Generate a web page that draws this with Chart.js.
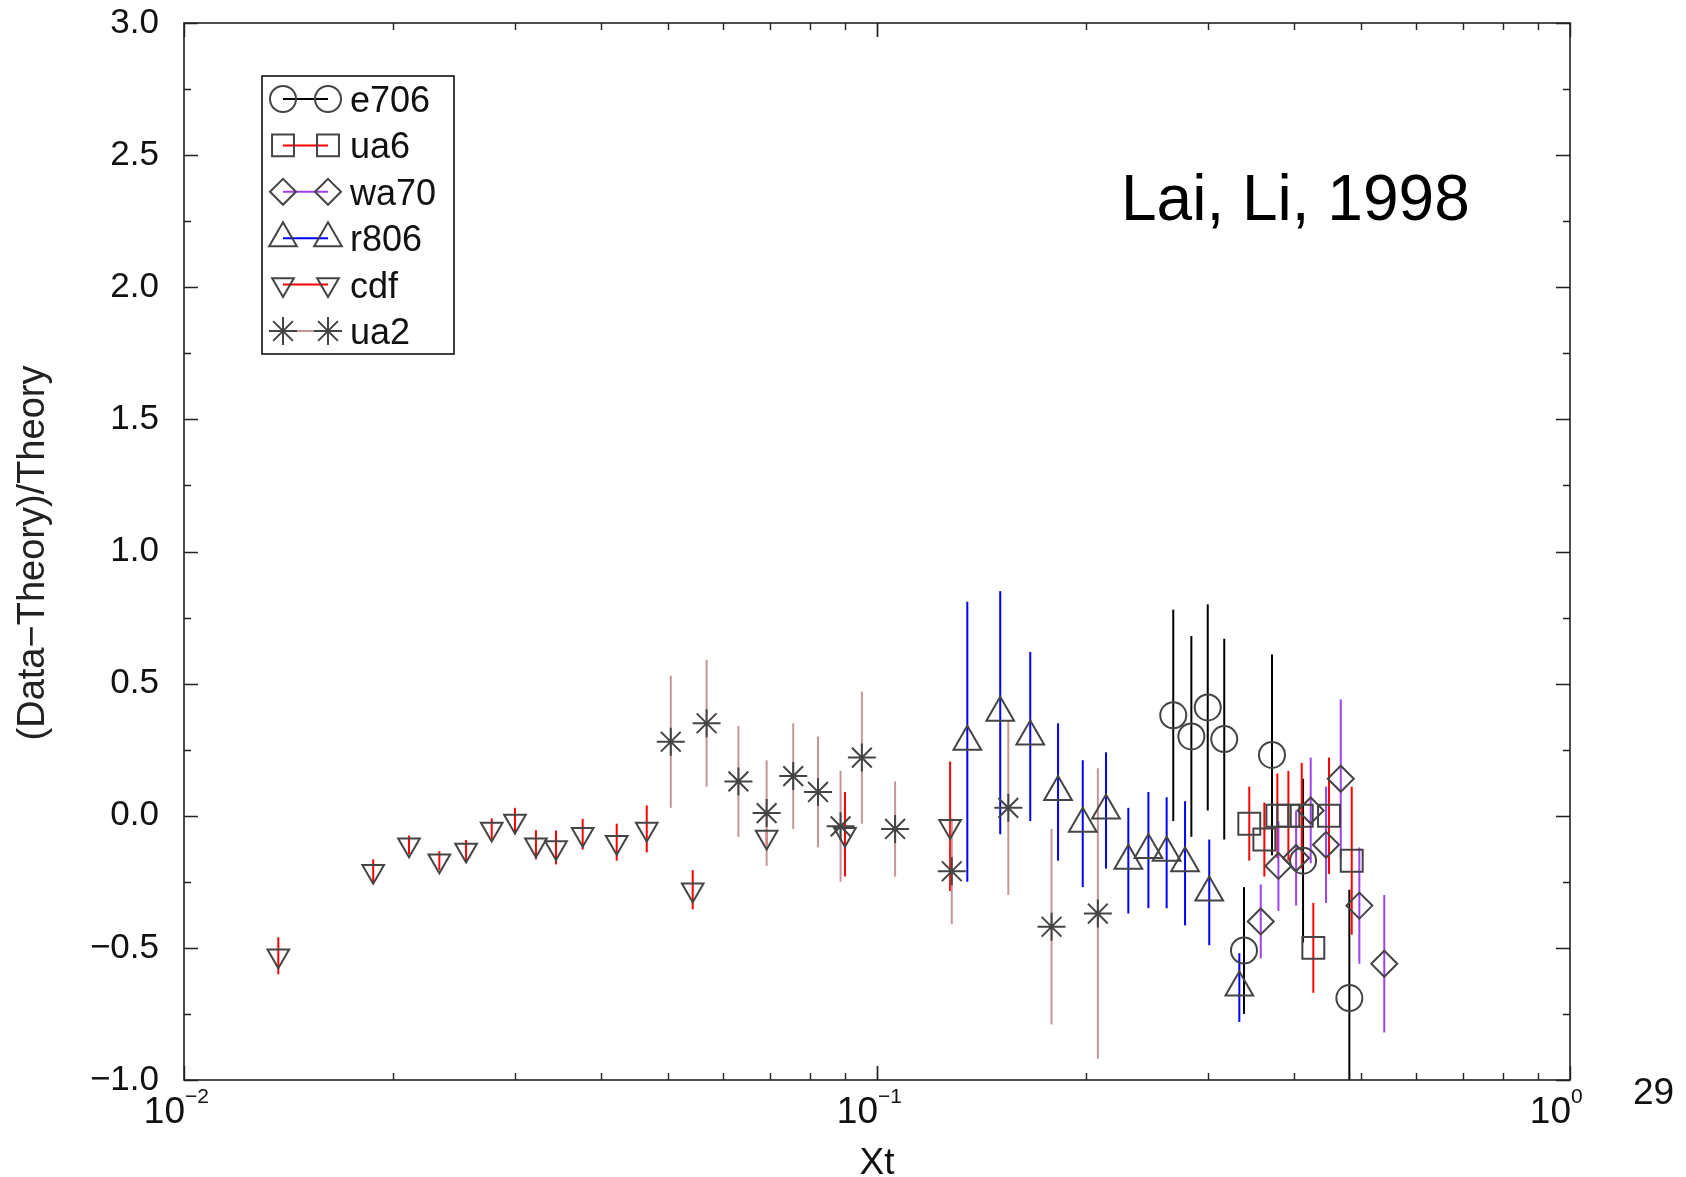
<!DOCTYPE html>
<html>
<head>
<meta charset="utf-8">
<script src="https://cdn.jsdelivr.net/npm/chart.js@4/dist/chart.umd.min.js"></script>
<style>
  html, body { margin: 0; padding: 0; background: #fff; }
  canvas { display: block; }
</style>
</head>
<body>
<canvas id="c" width="1686" height="1177"></canvas>
<script>
// values (x = Xt, y = (Data-Theory)/Theory, err = half error bar)
const e706X = [0.2676, 0.2842, 0.3001, 0.317, 0.3385, 0.3715, 0.4119, 0.4804];
const e706Y = [0.38, 0.30, 0.41, 0.29, -0.51, 0.23, -0.17, -0.69];
const e706Err = [0.40, 0.38, 0.39, 0.38, 0.24, 0.38, 0.31, 0.41];

const ua6X = [0.3445, 0.3622, 0.3782, 0.3923, 0.4101, 0.4262, 0.449, 0.4842];
const ua6Y = [-0.03, -0.09, 0.0, 0.0, 0.0, -0.50, 0.0, -0.17];
const ua6Err = [0.14, 0.14, 0.16, 0.17, 0.20, 0.17, 0.22, 0.28];

const wa70X = [0.3579, 0.3795, 0.4025, 0.4225, 0.4446, 0.4669, 0.4966, 0.5395];
const wa70Y = [-0.40, -0.19, -0.16, 0.02, -0.11, 0.14, -0.34, -0.56];
const wa70Err = [0.14, 0.17, 0.18, 0.20, 0.22, 0.30, 0.22, 0.26];

const r806X = [0.135, 0.1506, 0.1664, 0.1825, 0.1981, 0.214, 0.2305, 0.2464, 0.2618, 0.2783, 0.3016, 0.3333];
const r806Y = [0.28, 0.39, 0.30, 0.09, -0.03, 0.02, -0.17, -0.13, -0.14, -0.18, -0.29, -0.65];
const r806Err = [0.53, 0.46, 0.32, 0.26, 0.24, 0.22, 0.20, 0.22, 0.21, 0.235, 0.20, 0.13];

const cdfX = [0.01368, 0.01875, 0.02112, 0.02336, 0.02553, 0.0278, 0.03003, 0.0322, 0.03442, 0.03761, 0.04211, 0.04653, 0.05421, 0.0693, 0.0899, 0.1275];
const cdfY = [-0.53, -0.21, -0.11, -0.17, -0.13, -0.05, -0.02, -0.11, -0.12, -0.07, -0.10, -0.05, -0.28, -0.08, -0.07, -0.04];
const cdfErr = [0.07, 0.045, 0.035, 0.036, 0.038, 0.04, 0.05, 0.055, 0.064, 0.058, 0.07, 0.089, 0.074, 0.03, 0.16, 0.245];

const ua2X = [0.0504, 0.05677, 0.0631, 0.0693, 0.0757, 0.0822, 0.0886, 0.0951, 0.1062, 0.1282, 0.1547, 0.1786, 0.2083];
const ua2Y = [0.28, 0.35, 0.13, 0.01, 0.15, 0.09, -0.04, 0.22, -0.05, -0.21, 0.03, -0.42, -0.37];
const ua2Err = [0.25, 0.24, 0.21, 0.20, 0.20, 0.21, 0.21, 0.25, 0.18, 0.20, 0.33, 0.37, 0.55];

const xDecades = [0.01, 0.1, 1];
const yTicks = [-1, -0.5, 0, 0.5, 1, 1.5, 2, 2.5, 3];
const yMin = -1, yMax = 3;

const FONT = '"Liberation Sans", Arial, sans-serif';
const MARK = '#444';

function pts(xs, ys) { return xs.map((x, i) => ({ x, y: ys[i] })); }

const series = [
  { label: 'e706', x: e706X, y: e706Y, err: e706Err, color: '#000000', style: 'circle', r: 13, rot: 0 },
  { label: 'ua6', x: ua6X, y: ua6Y, err: ua6Err, color: '#ff0000', style: 'rect', r: 15.5, rot: 0 },
  { label: 'wa70', x: wa70X, y: wa70Y, err: wa70Err, color: '#a040f0', style: 'rectRot', r: 13, rot: 0 },
  { label: 'r806', x: r806X, y: r806Y, err: r806Err, color: '#0000ff', style: 'triangle', r: 16, rot: 0 },
  { label: 'cdf', x: cdfX, y: cdfY, err: cdfErr, color: '#ff0000', style: 'triangle', r: 12.5, rot: 180 },
  { label: 'ua2', x: ua2X, y: ua2Y, err: ua2Err, color: '#c49696', style: 'star', r: 14, rot: 0 },
];

const errorBars = {
  id: 'errorBars',
  beforeDatasetsDraw(chart) {
    const { ctx, chartArea: a, scales: { y } } = chart;
    ctx.save();
    ctx.beginPath();
    ctx.rect(a.left, a.top, a.right - a.left, a.bottom - a.top);
    ctx.clip();
    ctx.lineWidth = 2;
    series.forEach((s, i) => {
      const meta = chart.getDatasetMeta(i);
      ctx.strokeStyle = s.color;
      meta.data.forEach((p, j) => {
        ctx.beginPath();
        ctx.moveTo(p.x, y.getPixelForValue(s.y[j] - s.err[j]));
        ctx.lineTo(p.x, y.getPixelForValue(s.y[j] + s.err[j]));
        ctx.stroke();
      });
    });
    ctx.restore();
  }
};

function marker(ctx, s, x, y) {
  if (Chart.helpers && Chart.helpers.drawPoint) {
    Chart.helpers.drawPoint(ctx, { pointStyle: s.style, radius: s.r, rotation: s.rot, borderWidth: 2 }, x, y);
  }
}

const frame = {
  id: 'frame',
  afterDraw(chart) {
    const { ctx, chartArea: a, scales: { x, y } } = chart;
    ctx.save();
    ctx.strokeStyle = '#222';
    ctx.lineWidth = 1.6;
    ctx.strokeRect(a.left, a.top, a.right - a.left, a.bottom - a.top);

    // y ticks, inward, both sides
    ctx.lineWidth = 1.4;
    for (let k = 0; k <= 16; k++) {
      const v = yMin + k * 0.25;
      const py = Math.round(y.getPixelForValue(v)) + 0.5;
      const len = k % 2 === 0 ? 14 : 7;
      ctx.beginPath();
      ctx.moveTo(a.left, py); ctx.lineTo(a.left + len, py);
      ctx.moveTo(a.right, py); ctx.lineTo(a.right - len, py);
      ctx.stroke();
    }
    // x ticks, inward, top and bottom
    [0.01, 0.1].forEach(d => {
      for (let m = 1; m <= 10; m++) {
        const px = Math.round(x.getPixelForValue(d * m)) + 0.5;
        const len = (m === 1 || m === 10) ? 14 : 7;
        ctx.beginPath();
        ctx.moveTo(px, a.bottom); ctx.lineTo(px, a.bottom - len);
        ctx.moveTo(px, a.top); ctx.lineTo(px, a.top + len);
        ctx.stroke();
      }
    });

    // y tick labels
    ctx.fillStyle = '#111';
    ctx.font = '35px ' + FONT;
    ctx.textAlign = 'right';
    ctx.textBaseline = 'middle';
    yTicks.forEach(v => {
      ctx.fillText(v.toFixed(1).replace('-', '\u2212'), a.left - 25, y.getPixelForValue(v));
    });

    // x tick labels 10^n
    xDecades.forEach(d => {
      const px = x.getPixelForValue(d);
      const e = Math.round(Math.log10(d));
      ctx.font = '37px ' + FONT;
      ctx.textAlign = 'right';
      ctx.textBaseline = 'alphabetic';
      ctx.fillText('10', px + 1, 1123);
      ctx.font = '21px ' + FONT;
      ctx.textAlign = 'left';
      ctx.fillText(e < 0 ? '\u2212' + (-e) : String(e), px + 1, 1103);
    });

    // axis titles and annotations
    ctx.font = '37px ' + FONT;
    ctx.textAlign = 'center';
    ctx.fillText('Xt', 877, 1174);
    ctx.textAlign = 'left';
    ctx.fillText('29', 1633, 1104);
    ctx.font = '64px ' + FONT;
    ctx.fillStyle = '#000';
    ctx.fillText('Lai, Li, 1998', 1121, 220);

    ctx.save();
    ctx.translate(34, 553);
    ctx.rotate(-Math.PI / 2);
    ctx.font = '38px ' + FONT;
    ctx.fillStyle = '#222';
    ctx.textAlign = 'center';
    ctx.textBaseline = 'middle';
    ctx.fillText('(Data\u2212Theory)/Theory', 0, 0);
    ctx.restore();

    // legend
    const lx = 262, ly = 76, lw = 192, lh = 278;
    ctx.fillStyle = '#fff';
    ctx.fillRect(lx, ly, lw, lh);
    ctx.strokeStyle = '#111';
    ctx.lineWidth = 1.6;
    ctx.strokeRect(lx, ly, lw, lh);
    series.forEach((s, i) => {
      const cy = 99 + i * 46.4;
      ctx.strokeStyle = s.color;
      ctx.lineWidth = 2;
      ctx.beginPath();
      ctx.moveTo(283, cy); ctx.lineTo(328, cy);
      ctx.stroke();
      ctx.strokeStyle = MARK;
      ctx.fillStyle = 'rgba(0,0,0,0)';
      ctx.lineWidth = 2;
      marker(ctx, s, 283, cy);
      marker(ctx, s, 328, cy);
      ctx.fillStyle = '#111';
      ctx.font = '36px ' + FONT;
      ctx.textAlign = 'left';
      ctx.textBaseline = 'alphabetic';
      ctx.fillText(s.label, 350, cy + 13);
    });
    ctx.restore();
  }
};

new Chart(document.getElementById('c'), {
  type: 'scatter',
  data: {
    datasets: series.map(s => ({
      label: s.label,
      data: pts(s.x, s.y),
      pointStyle: s.style,
      pointRadius: s.r,
      pointHoverRadius: s.r,
      rotation: s.rot,
      borderColor: MARK,
      backgroundColor: 'rgba(0,0,0,0)',
      borderWidth: 2,
      showLine: false,
    }))
  },
  options: {
    responsive: false,
    animation: false,
    events: [],
    layout: { padding: { left: 0, top: 23, right: 116, bottom: 0 } },
    scales: {
      x: {
        type: 'logarithmic',
        min: 0.01, max: 1,
        grid: { display: false, drawTicks: false },
        border: { display: false },
        ticks: { display: false },
        afterFit(s) { s.height = 97; }
      },
      y: {
        min: yMin, max: yMax,
        grid: { display: false, drawTicks: false },
        border: { display: false },
        ticks: { display: false, stepSize: 0.5 },
        afterFit(s) { s.width = 184; }
      }
    },
    plugins: { legend: { display: false }, tooltip: { enabled: false } }
  },
  plugins: [errorBars, frame]
});
</script>
</body>
</html>
